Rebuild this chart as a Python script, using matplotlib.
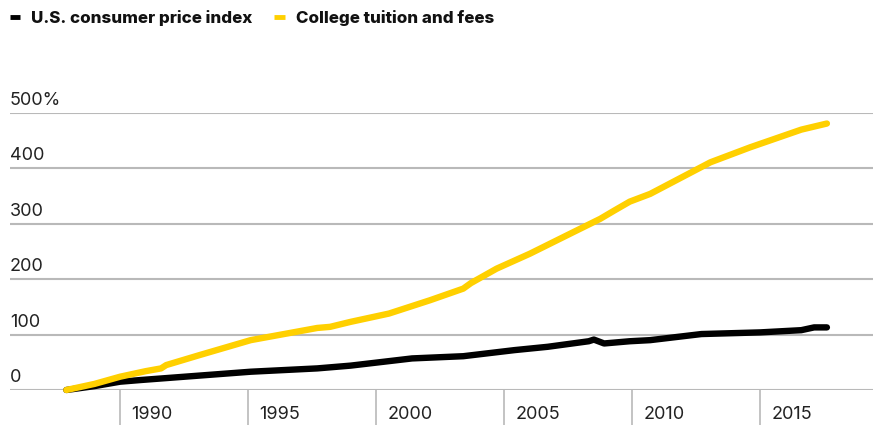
import matplotlib
matplotlib.use("Agg")
import matplotlib.pyplot as plt
from matplotlib.lines import Line2D
from matplotlib.transforms import offset_copy

# Data (cumulative % change since late 1987)
tuition_years = [1987.9, 1989.0, 1990.0, 1991.0, 1991.6, 1991.8, 1993.1, 1995.1, 1997.7,
                 1998.2, 1999.0, 2000.5, 2002.1, 2003.4, 2003.7, 2004.7, 2006.0, 2007.7,
                 2008.75, 2009.3, 2009.9, 2010.7, 2013.05, 2014.6, 2016.6, 2017.6]
tuition_vals = [0, 11, 24, 34, 39, 45, 63, 90, 112,
                114, 123, 138, 162, 183, 193, 219, 246, 285,
                309, 324, 340, 354, 411, 438, 470, 481]

cpi_years = [1987.9, 1989.0, 1990.0, 1990.8, 1995.1, 1997.7, 1999.0, 2001.4, 2003.4,
             2005.4, 2006.7, 2008.3, 2008.5, 2008.9, 2009.9, 2010.7, 2012.7, 2015.0,
             2016.6, 2017.1, 2017.6]
cpi_vals = [0, 7, 15, 18, 33, 39, 44, 57, 61,
            72, 78, 88, 91, 84, 88, 90, 101, 104,
            108, 113, 113]

series_labels = ["U.S. consumer price index", "College tuition and fees"]
x_ticks = [1990, 1995, 2000, 2005, 2010, 2015]
y_ticks = [0, 100, 200, 300, 400, 500]
y_tick_labels = ["0", "100", "200", "300", "400", "500%"]

YELLOW = "#FFD000"
BLACK = "#000000"
GRID = "#b9b9b9"
TEXT = "#222222"
FONT = ["Inter", "DejaVu Sans"]

W, H = 873, 425
fig = plt.figure(figsize=(W / 100, H / 100), dpi=100)
ax = fig.add_axes([10 / W, (H - 390) / H, 1 - 10 / W, (390 - 113) / H])

ax.plot(cpi_years, cpi_vals, color=BLACK, lw=4.6, solid_capstyle="round",
        solid_joinstyle="round", zorder=3, clip_on=False)
ax.plot(tuition_years, tuition_vals, color=YELLOW, lw=4.6, solid_capstyle="round",
        solid_joinstyle="round", zorder=4, clip_on=False)

ax.set_xlim(1985.7, 2019.4)
ax.set_ylim(0, 500)

for s in ax.spines.values():
    s.set_visible(False)

ax.set_yticks(y_ticks)
ax.yaxis.grid(True, color=GRID, lw=1.5)
ax.tick_params(axis="y", length=0, labelleft=False)
ax.set_axisbelow(True)

ax.set_xticks(x_ticks)
ax.tick_params(axis="x", direction="out", length=26, width=1.2, color=GRID,
               labelbottom=False)

# y labels, above gridlines, left aligned
for v, lab in zip(y_ticks, y_tick_labels):
    tr = offset_copy(ax.get_yaxis_transform(), fig=fig, x=0, y=8, units="dots")
    ax.text(0, v, lab, transform=tr, ha="left", va="baseline", fontsize=13,
            color=TEXT, family=FONT)

# x labels, right of tick lines
for yr in x_ticks:
    tr = offset_copy(ax.get_xaxis_transform(), fig=fig, x=11, y=-29, units="dots")
    ax.text(yr, 0, str(yr), transform=tr, ha="left", va="baseline", fontsize=13,
            color=TEXT, family=FONT)

# legend
handles = [Line2D([], [], color=BLACK, lw=3.5, solid_capstyle="butt"),
           Line2D([], [], color=YELLOW, lw=3.5, solid_capstyle="butt")]
leg = fig.legend(handles, series_labels, loc="upper left", bbox_to_anchor=(10 / W, 1 - 10 / H),
                 borderaxespad=0, borderpad=0,
                 ncol=2, frameon=False, handlelength=0.6, handletextpad=0.65,
                 columnspacing=1.3, prop={"family": FONT, "weight": "heavy", "size": 12.2})
for t in leg.get_texts():
    t.set_color("#111111")

fig.savefig("out.png", dpi=100)
